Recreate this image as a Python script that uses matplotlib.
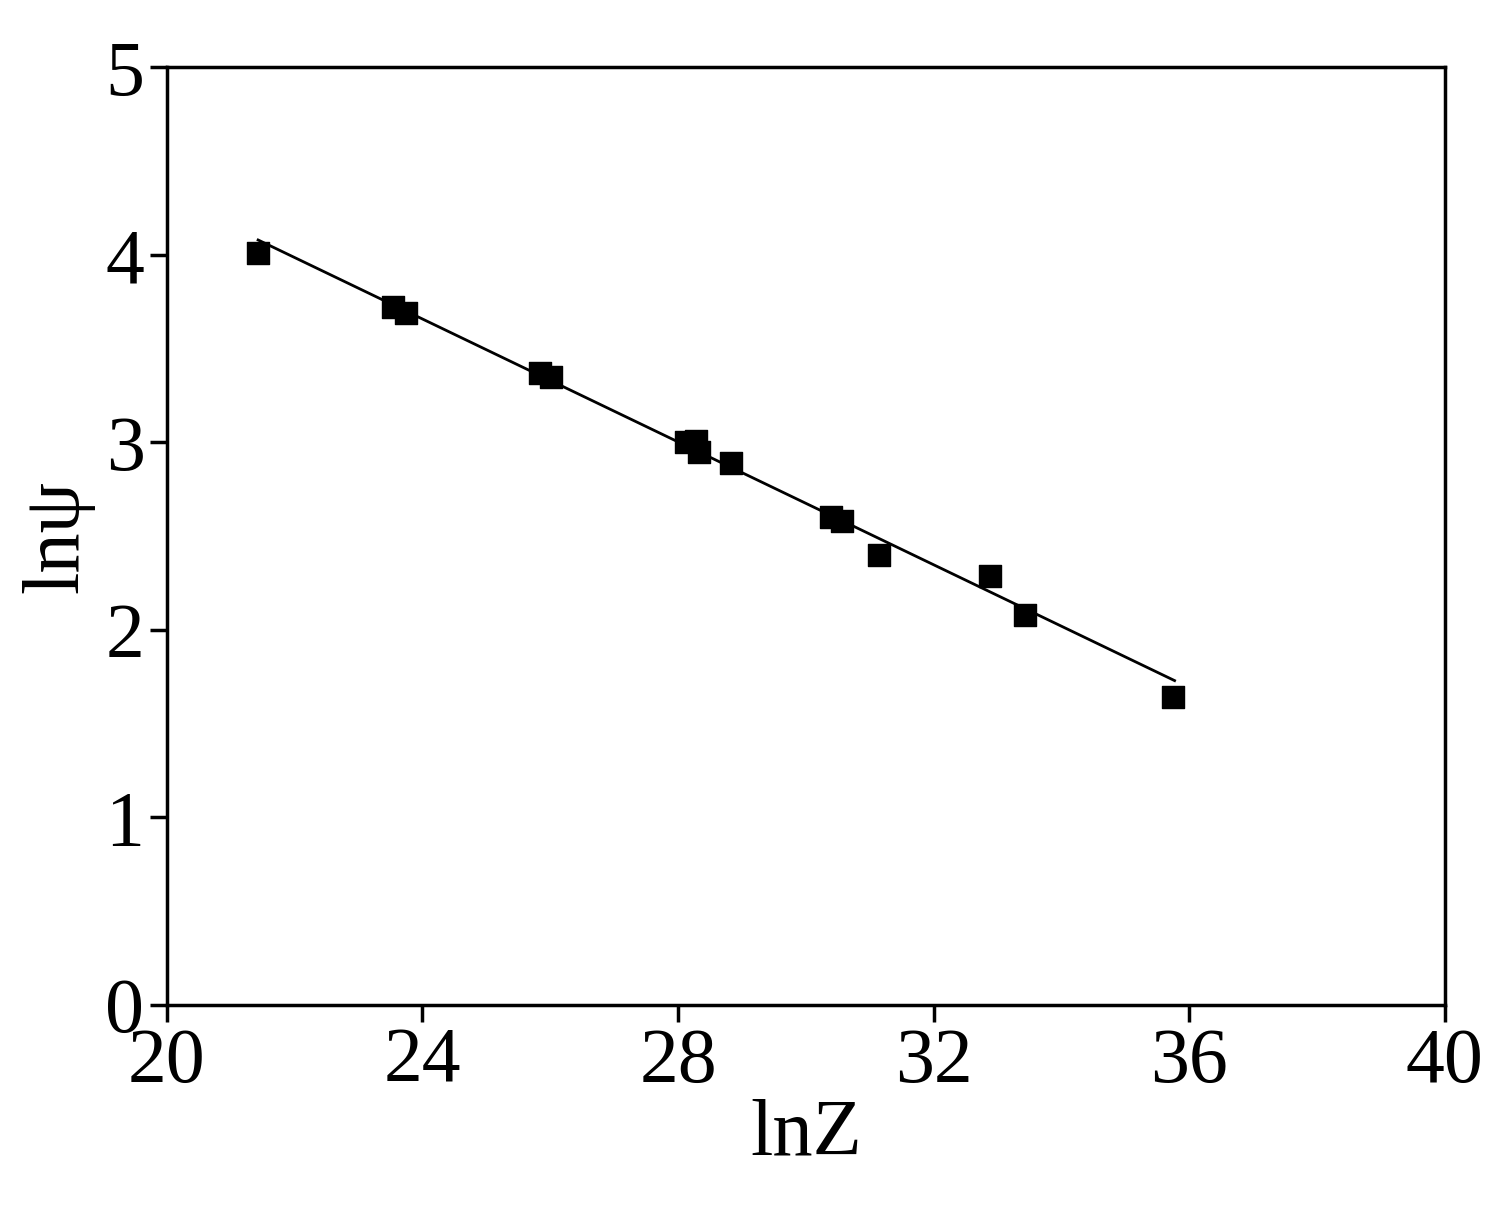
import matplotlib
matplotlib.use("Agg")
import matplotlib.pyplot as plt

lnZ = [21.43, 23.54, 23.74, 25.84, 26.01, 28.12, 28.28, 28.33, 28.83, 30.39, 30.56, 31.14, 32.88, 33.43, 35.74]
lnpsi = [4.01, 3.72, 3.69, 3.37, 3.35, 3.00, 3.01, 2.95, 2.89, 2.60, 2.58, 2.40, 2.29, 2.08, 1.64]
fit_x = [21.43, 35.77]
fit_y = [4.08, 1.73]

plt.rcParams['font.family'] = ['Liberation Serif', 'DejaVu Serif']
fig = plt.figure(figsize=(15.02, 12.05), dpi=100)
ax = fig.add_axes([0.111, 0.166, 0.851, 0.778])
ax.plot(fit_x, fit_y, color='black', lw=2)
ax.scatter(lnZ, lnpsi, marker='s', s=230, color='black', zorder=3)
ax.set_xlim(20, 40)
ax.set_ylim(0, 5)
ax.set_xticks([20, 24, 28, 32, 36, 40])
ax.set_yticks([0, 1, 2, 3, 4, 5])
ax.tick_params(labelsize=56, length=12, width=2.5, direction='out', pad=4)
for s in ax.spines.values():
    s.set_linewidth(2.5)
ax.set_xlabel('lnZ', fontsize=58, labelpad=0)
ax.set_ylabel('lnψ', fontsize=58, labelpad=8)
fig.savefig('out.png', dpi=100)
